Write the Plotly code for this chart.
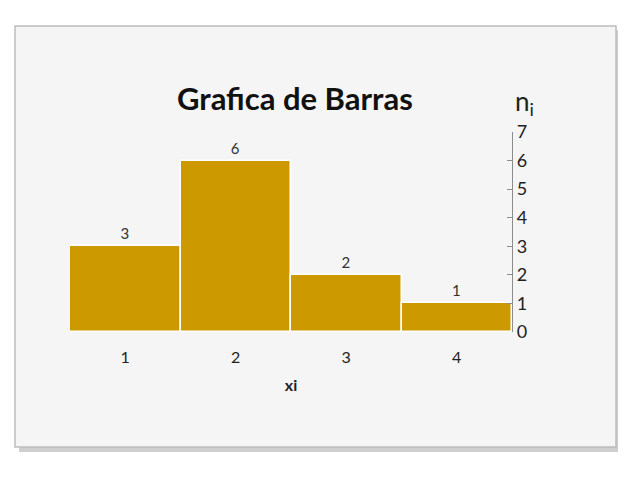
import plotly.graph_objects as go

categories = ["1", "2", "3", "4"]
values = [3, 6, 2, 1]
y_ticks = [0, 1, 2, 3, 4, 5, 6, 7]

title_text = "Grafica de Barras"
x_title = "xi"
y_title = "n<sub>i</sub>"

FONT = "Lato, Open Sans, sans-serif"
BAR_COLOR = "#CC9900"

fig = go.Figure()
fig.add_trace(go.Bar(
    x=categories,
    y=values,
    text=[str(v) for v in values],
    textposition="outside",
    textfont=dict(size=15, color="#333333", family=FONT),
    marker=dict(color=BAR_COLOR, line=dict(color="white", width=1.5)),
    cliponaxis=False,
    hoverinfo="x+y",
))

# The page body adds an 8px margin, so the figure is drawn 8px smaller / shifted.
OFF = 8
W, H = 626 - 2 * OFF, 493 - 2 * OFF
L, R, T, B = 70 - OFF, 512 - OFF, 132 - OFF, 332 - OFF
pw, ph = R - L, B - T

def px_to_paper_x(px):
    return (px - OFF - L) / pw

def px_to_paper_y(py):
    return (B - (py - OFF)) / ph

shapes = [
    # shadow
    dict(type="rect", xref="paper", yref="paper", layer="below",
         x0=px_to_paper_x(19), x1=px_to_paper_x(620),
         y0=px_to_paper_y(452), y1=px_to_paper_y(30),
         fillcolor="#cfcfcf", line=dict(width=0)),
    # card
    dict(type="rect", xref="paper", yref="paper", layer="below",
         x0=px_to_paper_x(15), x1=px_to_paper_x(616),
         y0=px_to_paper_y(447), y1=px_to_paper_y(26),
         fillcolor="#f5f5f5", line=dict(color="#bdbdbd", width=1.5)),
]

annotations = [
    dict(text="<b>" + title_text + "</b>", xref="paper", yref="paper",
         x=px_to_paper_x(295), y=px_to_paper_y(98),
         showarrow=False, xanchor="center", yanchor="middle",
         font=dict(size=31, color="#111111", family=FONT)),
    dict(text=y_title, xref="paper", yref="paper",
         x=px_to_paper_x(524), y=px_to_paper_y(102),
         showarrow=False, xanchor="center", yanchor="middle",
         font=dict(size=26, color="#222222", family=FONT)),
]

fig.update_layout(
    width=W, height=H,
    margin=dict(l=L, r=W - R, t=T, b=H - B, pad=0),
    paper_bgcolor="white",
    plot_bgcolor="rgba(0,0,0,0)",
    bargap=0,
    showlegend=False,
    shapes=shapes,
    annotations=annotations,
    font=dict(family=FONT, color="#222222"),
    xaxis=dict(
        type="category",
        showgrid=False, zeroline=False, showline=False, ticks="",
        tickfont=dict(size=16, color="#222222"),
        ticklabelstandoff=14,
        title=dict(text="<b>" + x_title + "</b>", font=dict(size=16, color="#222222"), standoff=14),
    ),
    yaxis=dict(
        side="right",
        range=[0, 7],
        tickvals=y_ticks,
        showgrid=False, zeroline=False,
        showline=True, linecolor="#8c8c8c", linewidth=1.2,
        ticks="inside", ticklen=5, tickcolor="#8c8c8c",
        tickfont=dict(size=18, color="#222222"),
    ),
)

fig.write_html("out.html")
